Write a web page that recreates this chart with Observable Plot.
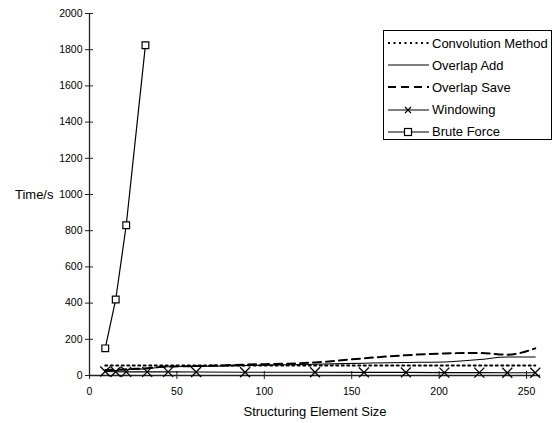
<!DOCTYPE html>
<html>
<head>
<meta charset="utf-8">
<script src="https://cdn.jsdelivr.net/npm/d3@7"></script>
<script src="https://cdn.jsdelivr.net/npm/@observablehq/plot@0.6"></script>
<style>
  body { margin: 0; background: #fff; font-family: "Liberation Sans", Arial, sans-serif; }
  #wrap { position: relative; width: 555px; height: 423px; }
  #legend { position: absolute; left: 383px; top: 30px; width: 169px; height: 110px; border: 1px solid #000; box-sizing: border-box; background: #fff; }
  .row { position: absolute; left: 3px; height: 16px; display: flex; align-items: center; font-size: 13px; color: #000; white-space: nowrap; }
  .row svg { margin-right: 3px; }
</style>
</head>
<body>
<div id="wrap"><div id="chart"></div><div id="legend"></div></div>
<script>
const sizes = [9, 15, 21, 33, 45, 61, 89, 129, 157, 181, 203, 223, 239, 255];
const convolution = [55, 55, 55, 55, 55, 55, 55, 55, 55, 55, 55, 55, 55, 55];
const overlapAdd = [25, 28, 32, 38, 48, 50, 55, 62, 68, 72, 75, 88, 102, 102];
const overlapSave = [30, 32, 35, 40, 50, 52, 60, 72, 95, 112, 122, 125, 115, 150];
const windowing = [22, 21, 20, 20, 20, 19, 18, 18, 17, 17, 16, 16, 15, 15];
const bruteSizes = [9, 15, 21, 32];
const bruteForce = [150, 420, 830, 1825];
const xTicks = [0, 50, 100, 150, 200, 250];
const yTicks = [0, 200, 400, 600, 800, 1000, 1200, 1400, 1600, 1800, 2000];
const seriesNames = ["Convolution Method", "Overlap Add", "Overlap Save", "Windowing", "Brute Force"];

const pts = (xs, ys) => xs.map((x, i) => ({x, y: ys[i]}));
const conv = pts(sizes, convolution);
const oadd = pts(sizes, overlapAdd);
const osave = pts(sizes, overlapSave);
const win = pts(sizes, windowing);
const brute = pts(bruteSizes, bruteForce);

const chart = Plot.plot({
  width: 555,
  height: 423,
  marginLeft: 89,
  marginRight: 15,
  marginTop: 13,
  marginBottom: 48,
  style: {fontFamily: "Liberation Sans, Arial, sans-serif", background: "#fff", color: "#000"},
  x: {domain: [0, 258]},
  y: {domain: [0, 2000]},
  marks: [
    Plot.axisY({ticks: yTicks, tickSize: 8, dx: 4, tickFormat: () => "", label: null, stroke: "#222"}),
    Plot.axisY({ticks: yTicks, tickSize: 0, tickPadding: 7, fontSize: 10.5, label: null, tickFormat: d => String(d)}),
    Plot.axisX({ticks: xTicks, tickSize: 8, dy: -4, tickFormat: () => "", label: null, stroke: "#222"}),
    Plot.axisX({ticks: xTicks, tickSize: 0, tickPadding: 12, fontSize: 10.5, label: null, tickFormat: d => String(d)}),
    Plot.ruleX([0], {stroke: "#222", strokeWidth: 1.3}),
    Plot.ruleY([0], {stroke: "#222", strokeWidth: 1.3}),
    Plot.line(conv, {x: "x", y: "y", stroke: "#000", strokeWidth: 2, strokeDasharray: "2,3.5"}),
    Plot.line(oadd, {x: "x", y: "y", stroke: "#000", strokeWidth: 1.1, curve: "monotone-x"}),
    Plot.line(osave, {x: "x", y: "y", stroke: "#000", strokeWidth: 2, strokeDasharray: "8,5", curve: "monotone-x"}),
    Plot.line(win, {x: "x", y: "y", stroke: "#000", strokeWidth: 1.1}),
    Plot.dot(win, {x: "x", y: "y", symbol: "times", r: 4.6, stroke: "#000", strokeWidth: 1.3}),
    Plot.line(brute, {x: "x", y: "y", stroke: "#000", strokeWidth: 1.2}),
    Plot.dot(brute, {x: "x", y: "y", symbol: "square", r: 3.8, stroke: "#000", fill: "#fff", strokeWidth: 1.2}),
    Plot.text(["Structuring Element Size"], {frameAnchor: "bottom", dy: 40, fontSize: 13, fill: "#000"}),
    Plot.text([{x: 0, y: 1000}], {x: "x", y: "y", text: () => "Time/s", textAnchor: "end", dx: -36, fontSize: 13, fill: "#000"})
  ]
});
document.getElementById("chart").appendChild(chart);

// Legend
const styles = [
  {w: 2, dash: "2,3.5", sym: null},
  {w: 1.1, dash: null, sym: null},
  {w: 2, dash: "8,5", sym: null},
  {w: 1.1, dash: null, sym: "times"},
  {w: 1.1, dash: null, sym: "square"}
];
const legend = document.getElementById("legend");
seriesNames.forEach((name, i) => {
  const s = styles[i];
  const row = document.createElement("div");
  row.className = "row";
  row.style.top = (4 + i * 22.2) + "px";
  let sym = "";
  if (s.sym === "times") sym = '<path d="M18 2 L24 8 M24 2 L18 8" stroke="#000" stroke-width="1.2"/>';
  if (s.sym === "square") sym = '<rect x="17.5" y="1.5" width="7" height="7" fill="#fff" stroke="#000" stroke-width="1.2"/>';
  row.innerHTML = '<svg width="42" height="10"><line x1="1" y1="5" x2="42" y2="5" stroke="#000" stroke-width="' + s.w + '"' +
    (s.dash ? ' stroke-dasharray="' + s.dash + '"' : '') + '/>' + sym + '</svg><span>' + name + '</span>';
  legend.appendChild(row);
});
</script>
</body>
</html>
